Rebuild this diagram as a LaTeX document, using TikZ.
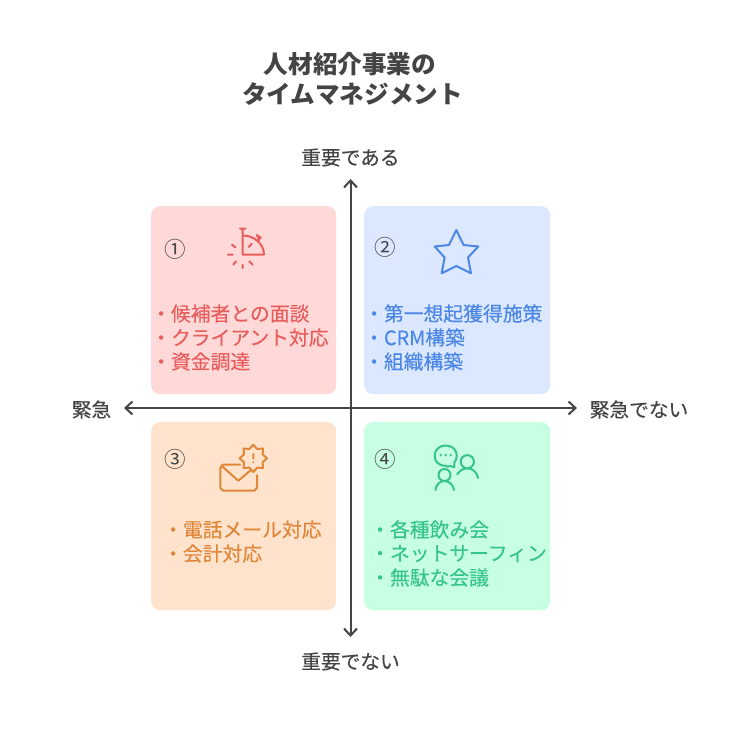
\documentclass[tikz,border=0pt]{standalone}
\usepackage{fontspec}
\setmainfont{Noto Sans CJK JP}
\newfontfamily\bodyface[FakeBold=0.25]{Noto Sans CJK JP}
\usetikzlibrary{arrows.meta}
\definecolor{ink}{HTML}{444444}
\definecolor{redbg}{HTML}{FFD8D8}\definecolor{redfg}{HTML}{E85C5C}
\definecolor{bluebg}{HTML}{DBE8FF}\definecolor{bluefg}{HTML}{4C87E6}
\definecolor{orabg}{HTML}{FFE3CC}\definecolor{orafg}{HTML}{E0873A}
\definecolor{grebg}{HTML}{C7FFE3}\definecolor{grefg}{HTML}{36C48B}
\tikzset{
 card/.style={rounded corners=9pt,draw=none,minimum width=#1,minimum height=188pt,inner sep=0pt,anchor=north west},
 axislabel/.style={text=ink,font=\bodyface\fontsize{19.7}{20}\selectfont,inner sep=0pt},
 numlabel/.style={text=ink,font=\fontsize{21.5}{22}\selectfont,inner sep=0pt},
 listitem/.style={font=\bodyface\fontsize{19.8}{20}\selectfont,inner sep=0pt,anchor=west},
 titleline/.style={text=ink,font=\fontsize{24.6}{26}\selectfont\bfseries,inner sep=0pt},
 axisline/.style={draw=ink,line width=2pt,{Straight Barb[length=7pt,width=13pt,line width=2pt]}-{Straight Barb[length=7pt,width=13pt,line width=2pt]}},
 iconline/.style={line width=2pt,line cap=round,line join=round}
}
\begin{document}
\begin{tikzpicture}[x=1pt,y=-1pt]
\useasboundingbox (0,0) rectangle (745,745);
\fill[white] (0,0) rectangle (745,745);
\node[titleline] (t1) at (350,64.5) {人材紹介事業の};
\node[titleline] (t2) at (352.5,94.5) {タイムマネジメント};
\node[card=185pt,fill=redbg] (c1) at (151,206) {};
\node[card=186pt,fill=bluebg] (c2) at (364,206) {};
\node[card=185pt,fill=orabg] (c3) at (151,422) {};
\node[card=186pt,fill=grebg] (c4) at (364,422) {};
\coordinate (vt) at (350.5,179);\coordinate (vb) at (350.5,637);
\coordinate (hl) at (124,408);\coordinate (hr) at (577,408);
\draw[axisline] (vt) -- (vb);
\draw[axisline] (hl) -- (hr);
\node[axislabel] (lt) at (350.5,157.5) {重要である};
\node[axislabel] (lb) at (350.5,661.5) {重要でない};
\node[axislabel] (ll) at (91.5,409.5) {緊急};
\node[axislabel] (lr) at (639,409.5) {緊急でない};
\node[numlabel] (n1) at (175.5,249.5) {①};
\node[numlabel] (n2) at (385.5,247.5) {②};
\node[numlabel] (n3) at (175.5,459.5) {③};
\node[numlabel] (n4) at (385.5,459.5) {④};
% lists
\node[listitem,text=redfg] (a1) at (151,313.5) {・候補者との面談};
\node[listitem,text=redfg] (a2) at (151,337.5) {・クライアント対応};
\node[listitem,text=redfg] (a3) at (151,361.5) {・資金調達};
\node[listitem,text=bluefg] (b1) at (364,313.5) {・第一想起獲得施策};
\node[listitem,text=bluefg] (b2) at (364,337.5) {・CRM構築};
\node[listitem,text=bluefg] (b3) at (364,361.5) {・組織構築};
\node[listitem,text=orafg] (d1) at (163,529.5) {・電話メール対応};
\node[listitem,text=orafg] (d2) at (163,553.5) {・会計対応};
\node[listitem,text=grefg] (e1) at (370,529.5) {・各種飲み会};
\node[listitem,text=grefg] (e2) at (370,553.5) {・ネットサーフィン};
\node[listitem,text=grefg] (e3) at (370,577.5) {・無駄な会議};
% icon 1
\draw[iconline,draw=redfg] (240,228.7) -- (245.5,228.7) (242.7,228.7) -- (242.7,254.7) -- (264,254.7)
  (242.7,235.5) arc[start angle=-90,end angle=0,x radius=21.3,y radius=19.2]
  (257,235) -- (259.3,240) (257,235) -- (261,238)
  (251.7,243.7) -- (248.7,247)
  (232,244.7) -- (235.3,247.3) (228,254.7) -- (232.7,254.7) (233.3,264.7) -- (236,261.3)
  (242.7,264.7) -- (242.7,268) (249.3,261.3) -- (252.7,264.7);
% icon 2
\draw[iconline,draw=bluefg] (456.3,230) -- (463.6,245) -- (478.3,246.5) -- (468,257.5) -- (471,273.3) -- (456.3,266) -- (441.7,273.3) -- (444.6,257.5) -- (434.7,246.5) -- (449,245) -- cycle;
% icon 3
\draw[iconline,draw=orafg] (240,464.7) -- (223,464.7) to[out=180,in=-90] (220.3,467.5) -- (220.3,488) to[out=90,in=180] (223,490.7) -- (254,490.7) to[out=0,in=90] (257,488) -- (257,475)
  (221.7,466) -- (238.3,480.7) -- (251,470);
\draw[iconline,draw=orafg] (253.3,444.8) -- (257.2,449) -- (263,448.5) -- (262.6,454.4) -- (267,458.3) -- (262.6,462.2) -- (263,468) -- (257.2,467.6) -- (253.3,472) -- (249.4,467.6) -- (243.6,468) -- (244,462.2) -- (239.6,458.3) -- (244,454.4) -- (243.6,448.5) -- (249.4,449) -- cycle
  (253.3,454) -- (253.3,458.5) (253.3,462.2) -- (253.3,462.3);
% icon 4
\draw[iconline,draw=grefg] (450.5,466) to[out=190,in=-60] (445.7,465.8) .. controls (438,465.8) and (434.7,461) .. (434.7,455.7) .. controls (434.7,450) and (439,445.5) .. (445.7,445.5) .. controls (452.5,445.5) and (456.8,450) .. (456.8,455.7) .. controls (456.8,459) and (455.5,461) .. (454.3,462.5) -- (454.3,467.3) -- (450.5,466);
\draw[iconline,draw=grefg] (467.3,461.7) circle[radius=6.6];
\draw[iconline,draw=grefg] (457.3,474.3) .. controls (460,470) and (464,468.3) .. (467.5,468.3) .. controls (472.5,468.3) and (477,472) .. (478,478);
\draw[iconline,draw=grefg] (444.5,475) circle[radius=6];
\draw[iconline,draw=grefg] (435.5,490) .. controls (436,484.5) and (440,481) .. (444.5,481) .. controls (449,481) and (453,484.5) .. (454,490);
\fill[grefg] (440.7,455) circle[radius=1.3] (445.7,455) circle[radius=1.3] (450.7,455) circle[radius=1.3];
\end{tikzpicture}
\end{document}
